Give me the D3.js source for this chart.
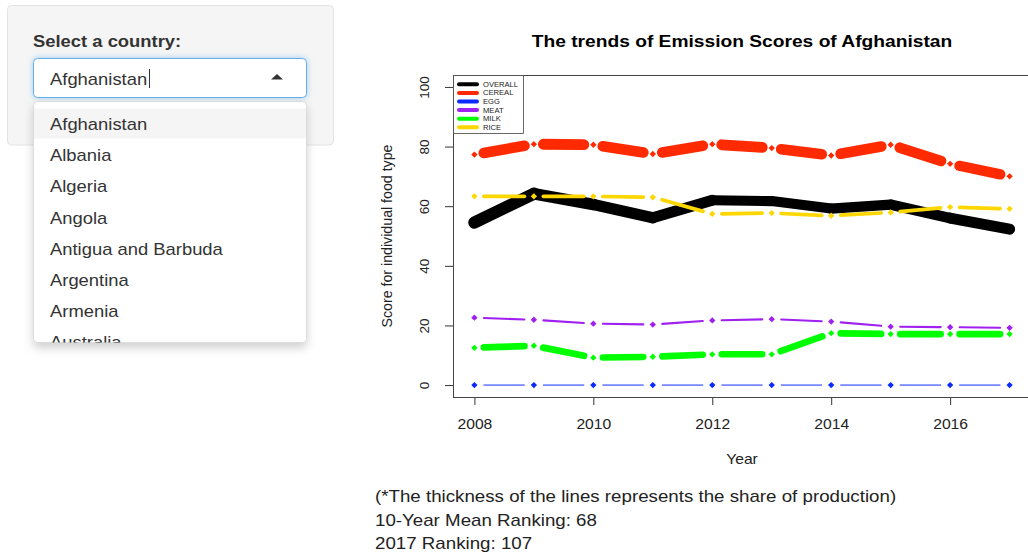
<!DOCTYPE html>
<html>
<head>
<meta charset="utf-8">
<script src="https://cdn.jsdelivr.net/npm/d3@7"></script>
<style>
  html, body { margin: 0; padding: 0; background: #fff; }
  svg { display: block; }
</style>
</head>
<body>
<svg id="chart" width="1028" height="557"></svg>
<script>
// ---------------- data ----------------
const years = [2008, 2009, 2010, 2011, 2012, 2013, 2014, 2015, 2016, 2017];
const overall = [54.5, 64.2, 60.6, 56.1, 62.0, 61.7, 59.2, 60.5, 56.0, 52.3];
const cereal  = [77.3, 80.8, 80.6, 77.5, 80.8, 79.5, 77.0, 80.6, 74.2, 70.0];
const egg     = [0, 0, 0, 0, 0, 0, 0, 0, 0, 0];
const meat    = [22.6, 21.9, 20.6, 20.3, 21.7, 22.1, 21.3, 19.6, 19.4, 19.2];
const milk    = [12.5, 13.2, 9.2, 9.5, 10.3, 10.3, 17.4, 17.1, 17.1, 17.1];
const rice    = [63.3, 63.3, 63.3, 63.0, 57.4, 57.7, 56.8, 57.9, 59.7, 59.1];
// share of production per segment (drives line thickness)
const overallShare = [1.0, 0.95, 0.92, 0.9, 0.82, 0.82, 0.84, 0.86, 0.9];
const cerealShare  = [0.86, 0.88, 0.86, 0.86, 0.88, 0.86, 0.86, 0.86, 0.84];
const eggShare     = [0.08, 0.08, 0.08, 0.08, 0.08, 0.08, 0.08, 0.08, 0.08];
const meatShare    = [0.17, 0.17, 0.17, 0.17, 0.17, 0.17, 0.17, 0.17, 0.17];
const milkShare    = [0.55, 0.55, 0.53, 0.53, 0.53, 0.55, 0.55, 0.55, 0.55];
const riceShare    = [0.3, 0.3, 0.3, 0.3, 0.3, 0.3, 0.3, 0.3, 0.3];
const seriesNames  = ["OVERALL", "CEREAL", "EGG", "MEAT", "MILK", "RICE"];
const seriesColors = ["#000000", "#ff2a00", "#0a2bff", "#a020f0", "#00ff00", "#ffd700"];
const yTicks = [0, 20, 40, 60, 80, 100];
const xTicks = [2008, 2010, 2012, 2014, 2016];
const countries = ["Afghanistan", "Albania", "Algeria", "Angola", "Antigua and Barbuda", "Argentina", "Armenia", "Australia"];
const selectedCountry = "Afghanistan";
const meanRanking = 68;
const lastRanking = 107;

const seriesValues = [overall, cereal, egg, meat, milk, rice];
const seriesShares = [overallShare, cerealShare, eggShare, meatShare, milkShare, riceShare];

// ---------------- setup ----------------
const svg = d3.select("#chart");
const FONT = "'Liberation Sans', Arial, Helvetica, sans-serif";
const SX = 1.15;

const defs = svg.append("defs");
const ds = defs.append("filter").attr("id", "ddshadow").attr("x", "-20%").attr("y", "-20%").attr("width", "140%").attr("height", "150%");
ds.append("feDropShadow").attr("dx", 0).attr("dy", 5).attr("stdDeviation", 5).attr("flood-color", "#000").attr("flood-opacity", 0.18);
const glow = defs.append("filter").attr("id", "glow").attr("x", "-20%").attr("y", "-40%").attr("width", "140%").attr("height", "180%");
glow.append("feDropShadow").attr("dx", 0).attr("dy", 0).attr("stdDeviation", 3).attr("flood-color", "#66afe9").attr("flood-opacity", 0.6);
defs.append("clipPath").attr("id", "ddclip").append("rect").attr("x", 33).attr("y", 101).attr("width", 274).attr("height", 241.5).attr("rx", 4);

function htext(g, x, y, str, opts) {
  opts = opts || {};
  return g.append("text")
    .attr("transform", `translate(${x},${y}) scale(${opts.sx || SX},1)`)
    .attr("text-anchor", opts.anchor || "start")
    .attr("font-family", FONT)
    .attr("font-size", opts.size || 16)
    .attr("font-weight", opts.weight || "normal")
    .attr("fill", opts.fill || "#333")
    .text(str);
}

// ---------------- left panel (select input) ----------------
const panel = svg.append("g");
panel.append("rect").attr("x", 7.5).attr("y", 5.5).attr("width", 326).attr("height", 139.5).attr("rx", 4)
  .attr("fill", "#f5f5f5").attr("stroke", "#e3e3e3");
htext(panel, 33, 46.5, "Select a country:", {size: 16, weight: "bold", fill: "#333"});

panel.append("rect").attr("x", 33.5).attr("y", 58.5).attr("width", 273).attr("height", 39).attr("rx", 4)
  .attr("fill", "#fff").attr("stroke", "#66afe9").attr("filter", "url(#glow)");
htext(panel, 50, 85, selectedCountry, {size: 16, fill: "#333"});
panel.append("line").attr("x1", 149.5).attr("x2", 149.5).attr("y1", 69).attr("y2", 88).attr("stroke", "#333").attr("stroke-width", 1);
panel.append("path").attr("d", "M271,79.5 L283,79.5 L277,74 Z").attr("fill", "#333");

const dd = panel.append("g");
dd.append("rect").attr("x", 33.5).attr("y", 101.5).attr("width", 273).attr("height", 241).attr("rx", 4)
  .attr("fill", "#fff").attr("stroke", "#dcdcdc").attr("filter", "url(#ddshadow)");
const ddInner = dd.append("g").attr("clip-path", "url(#ddclip)");
ddInner.append("rect").attr("x", 34).attr("y", 108.5).attr("width", 272).attr("height", 30).attr("fill", "#f5f5f5");
countries.forEach((c, i) => {
  htext(ddInner, 50, 130 + i * 31.2, c, {size: 16, fill: "#333"});
});

// ---------------- plot ----------------
const plotL = 453, plotR = 1031, plotT = 75, plotB = 397;
const x = d3.scaleLinear().domain([2008 - 0.36, 2017 + 0.36]).range([plotL, plotR]);
const y = d3.scaleLinear().domain([-4, 104]).range([plotB, plotT]);
const widthScale = d3.scaleLinear().domain([0, 1]).range([0, 12.3]);

const plot = svg.append("g");

// title
htext(plot, (plotL + plotR) / 2, 46.7, `The trends of Emission Scores of ${selectedCountry}`, {size: 16.7, weight: "bold", fill: "#000", anchor: "middle"});

// axes
const yAxis = d3.axisLeft(y).tickValues(yTicks).tickSize(8).tickFormat(d3.format("d"));
const gy = plot.append("g").attr("transform", `translate(${plotL},0)`).call(yAxis);
gy.select(".domain").remove();
gy.selectAll(".tick line").attr("stroke", "#333");
gy.selectAll(".tick text")
  .attr("font-family", FONT).attr("font-size", 13.5).attr("fill", "#222")
  .attr("x", null).attr("dy", null).attr("text-anchor", "middle")
  .attr("transform", "translate(-24.5,0) rotate(-90)").attr("y", 0);

const xAxis = d3.axisBottom(x).tickValues(xTicks).tickSize(8).tickFormat(d3.format("d"));
const gx = plot.append("g").attr("transform", `translate(0,${plotB})`).call(xAxis);
gx.select(".domain").remove();
gx.selectAll(".tick line").attr("stroke", "#333");
gx.selectAll(".tick text")
  .attr("font-family", FONT).attr("font-size", 14).attr("fill", "#222")
  .attr("y", null).attr("dy", null)
  .attr("transform", "translate(0,32.3) scale(1.12,1)");

htext(plot, (plotL + plotR) / 2, 463.5, "Year", {size: 14, fill: "#222", sx: 1.12, anchor: "middle"});
plot.append("text")
  .attr("transform", `translate(392,${(plotT + plotB) / 2}) rotate(-90)`)
  .attr("text-anchor", "middle").attr("font-family", FONT).attr("font-size", 14.2).attr("fill", "#222")
  .text("Score for individual food type");

// box
plot.append("rect").attr("x", plotL + 0.5).attr("y", plotT + 0.5).attr("width", plotR - plotL).attr("height", plotB - plotT)
  .attr("fill", "none").attr("stroke", "#444").attr("stroke-width", 1);

// series
const GAP = 9.5;
const diamond = d3.symbol().type(d3.symbolSquare).size(20);
seriesValues.forEach((vals, si) => {
  const g = plot.append("g");
  const color = seriesColors[si];
  const shares = seriesShares[si];
  const pts = years.map((yr, i) => [x(yr), y(vals[i])]);
  for (let i = 0; i < pts.length - 1; i++) {
    let [x1, y1] = pts[i], [x2, y2] = pts[i + 1];
    if (si !== 0) {
      const dx = x2 - x1, dy = y2 - y1, len = Math.hypot(dx, dy);
      const ux = dx / len, uy = dy / len;
      x1 += ux * GAP; y1 += uy * GAP; x2 -= ux * GAP; y2 -= uy * GAP;
    }
    g.append("line").attr("x1", x1).attr("y1", y1).attr("x2", x2).attr("y2", y2)
      .attr("stroke", color).attr("stroke-width", widthScale(shares[i])).attr("stroke-linecap", "round");
  }
  if (si !== 0) {
    g.selectAll("path.pt").data(pts).join("path").attr("class", "pt")
      .attr("d", diamond).attr("transform", d => `translate(${d[0]},${d[1]}) rotate(45)`)
      .attr("fill", color);
  }
});

// legend
const lg = plot.append("g");
lg.append("rect").attr("x", plotL + 0.5).attr("y", plotT + 0.5).attr("width", 70).attr("height", 58)
  .attr("fill", "#fff").attr("stroke", "#444").attr("stroke-width", 0.8);
seriesNames.forEach((nm, i) => {
  const cy = 84.3 + i * 8.6;
  lg.append("line").attr("x1", 459).attr("x2", 477).attr("y1", cy).attr("y2", cy)
    .attr("stroke", seriesColors[i]).attr("stroke-width", 4).attr("stroke-linecap", "round");
  htext(lg, 483, cy + 2.4, nm, {size: 6.6, fill: "#222"});
});

// notes
const notes = svg.append("g");
htext(notes, 375, 502, "(*The thickness of the lines represents the share of production)", {size: 16, fill: "#222", sx: 1.17});
htext(notes, 375, 525.5, `10-Year Mean Ranking: ${meanRanking}`, {size: 16, fill: "#222", sx: 1.17});
htext(notes, 375, 549, `${years[years.length - 1]} Ranking: ${lastRanking}`, {size: 16, fill: "#222", sx: 1.17});
</script>
</body>
</html>
